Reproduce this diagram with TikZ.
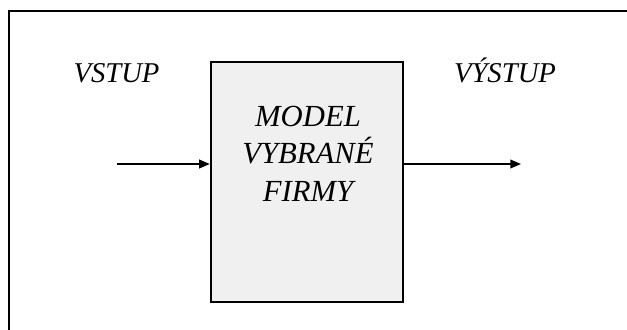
\documentclass[tikz,border=0pt]{standalone}
\usepackage{fontspec}
\setmainfont{Liberation Serif}
\usepackage{tikz}
\usetikzlibrary{arrows.meta}

\begin{document}
\begin{tikzpicture}[x=0.75pt,y=-0.75pt,line width=1.8pt,
   lbl/.style={font=\fontsize{21.5}{28}\selectfont\itshape,inner sep=0pt,align=center},
   blok/.style={draw,fill=black!6,minimum width=144pt,minimum height=180pt,inner sep=0pt},
   sig/.style={line width=1.2pt,-{Triangle[length=8pt,width=6.5pt]}}]
\useasboundingbox (0,0) rectangle (627,329);
\clip (0,0) rectangle (627,329);
% frame round the scheme
\draw (9,11) rectangle (660,360);
\node[blok] (model) at (307,182) {};
\node[lbl,anchor=north,font=\fontsize{23}{28}\selectfont\itshape] (modeltext) at (308,105) {MODEL\\VYBRANÉ\\FIRMY};
\node[lbl,anchor=base] (vstup) at (116.5,82) {VSTUP};
\node[lbl,anchor=base] (vystup) at (505,82) {VÝSTUP};
\coordinate (in) at (117,164);
\coordinate (out) at (521,164);
\draw[sig] (in) -- (in -| model.west);
\draw[sig] (out -| model.east) -- (out);
\end{tikzpicture}
\end{document}
